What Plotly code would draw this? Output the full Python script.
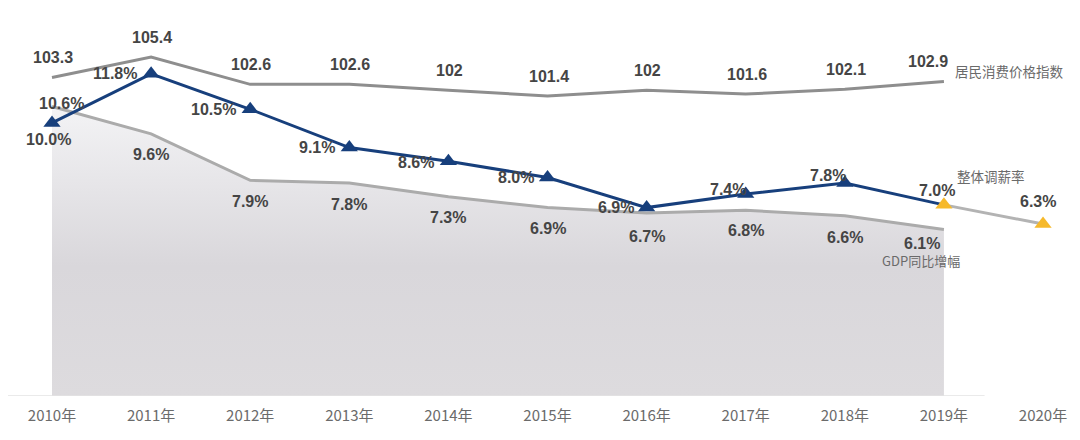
import plotly.graph_objects as go

# ---------------- data ----------------
years = [2010, 2011, 2012, 2013, 2014, 2015, 2016, 2017, 2018, 2019, 2020]
year_labels = ["2010年", "2011年", "2012年", "2013年", "2014年", "2015年",
               "2016年", "2017年", "2018年", "2019年", "2020年"]

cpi_years = years[:10]
cpi = [103.3, 105.4, 102.6, 102.6, 102, 101.4, 102, 101.6, 102.1, 102.9]
cpi_text = ["103.3", "105.4", "102.6", "102.6", "102", "101.4", "102", "101.6", "102.1", "102.9"]

salary = [10.0, 11.8, 10.5, 9.1, 8.6, 8.0, 6.9, 7.4, 7.8, 7.0, 6.3]
salary_text = ["10.0%", "11.8%", "10.5%", "9.1%", "8.6%", "8.0%", "6.9%", "7.4%", "7.8%", "7.0%", "6.3%"]

gdp_years = years[:10]
gdp = [10.6, 9.6, 7.9, 7.8, 7.3, 6.9, 6.7, 6.8, 6.6, 6.1]
gdp_text = ["10.6%", "9.6%", "7.9%", "7.8%", "7.3%", "6.9%", "6.7%", "6.8%", "6.6%", "6.1%"]

series_names = ["居民消费价格指数", "整体调薪率", "GDP同比增幅"]

# ---------------- style ----------------
NAVY = "#173f7c"
YELLOW = "#f6b92b"
CPI_GRAY = "#8e8e8e"
GDP_GRAY = "#ababab"
LABEL = "#454545"
SIDE = "#6a6a6a"
NUM_FONT = "Liberation Sans, Arial, sans-serif"
CJK_FONT = "Noto Sans CJK SC, sans-serif"

# label offsets (pixels): (xanchor, dx, dy)
cpi_off = [("center", 1, 20)] * 9 + [("center", -16, 20)]
salary_off = [("center", -4, -17), ("right", -12, 0), ("right", -12, 0), ("right", -12, 0),
              ("right", -12, -1), ("right", -12, 0), ("right", -11, 0), ("right", 2, 4),
              ("right", 3, 8), ("right", 13, 14), ("center", -5, 22)]
gdp_off = [("center", 9, 3)] + [("center", 0, -21)] * 5 + [("center", 0, -23), ("center", 0, -20),
                                                          ("center", 0, -22), ("center", -22, -14)]

fig = go.Figure()

# GDP with gradient fill
fig.add_trace(go.Scatter(
    x=gdp_years, y=gdp, mode="lines", name=series_names[2],
    line=dict(color=GDP_GRAY, width=3),
    fill="tozeroy",
    fillgradient=dict(type="vertical", start=0, stop=10.6,
                      colorscale=[[0, "#dddbde"], [0.45, "#d9d7db"], [1, "#f3f3f5"]]),
    hoverinfo="skip",
))

# CPI on secondary axis
fig.add_trace(go.Scatter(
    x=cpi_years, y=cpi, mode="lines", name=series_names[0], yaxis="y2",
    line=dict(color=CPI_GRAY, width=3), hoverinfo="skip",
))

# salary: projected segment (2019-2020)
fig.add_trace(go.Scatter(
    x=years[9:], y=salary[9:], mode="lines", line=dict(color="#b3b3b3", width=3),
    hoverinfo="skip", showlegend=False,
))
# salary main line
fig.add_trace(go.Scatter(
    x=years[:10], y=salary[:10], mode="lines", name=series_names[1],
    line=dict(color=NAVY, width=3), hoverinfo="skip",
))
# markers
marker_colors = [NAVY] * 9 + [YELLOW, YELLOW]
fig.add_trace(go.Scatter(
    x=years, y=salary, mode="markers",
    marker=dict(symbol="triangle-up", size=15, color=marker_colors),
    hoverinfo="skip", showlegend=False,
))

ann = []


def add_labels(xs, ys, texts, offs, yref):
    for x, y, t, (xa, dx, dy) in zip(xs, ys, texts, offs):
        ann.append(dict(x=x, y=y, xref="x", yref=yref, text=t, showarrow=False,
                        xanchor=xa, yanchor="middle", xshift=dx, yshift=dy,
                        font=dict(family=NUM_FONT, size=16, color=LABEL, weight="bold")))


add_labels(cpi_years, cpi, cpi_text, cpi_off, "y2")
add_labels(years, salary, salary_text, salary_off, "y")
add_labels(gdp_years, gdp, gdp_text, gdp_off, "y")

# series names
ann.append(dict(x=cpi_years[-1], y=cpi[-1], xref="x", yref="y2", text=series_names[0],
                showarrow=False, xanchor="left", yanchor="middle", xshift=9, yshift=10,
                font=dict(family=CJK_FONT, size=13.5, color=SIDE)))
ann.append(dict(x=years[9], y=salary[9], xref="x", yref="y", text=series_names[1],
                showarrow=False, xanchor="left", yanchor="middle", xshift=11, yshift=29,
                font=dict(family=CJK_FONT, size=13.5, color=SIDE)))
ann.append(dict(x=gdp_years[-1], y=gdp[-1], xref="x", yref="y", text=series_names[2],
                showarrow=False, xanchor="center", yanchor="middle", xshift=-23, yshift=-31,
                font=dict(family=CJK_FONT, size=13, color=SIDE)))

# page body has an 8px margin: figure sized to fit the 1080x440 window
fig.update_layout(
    width=1072, height=432,
    margin=dict(l=0, r=0, t=0, b=44),
    paper_bgcolor="white", plot_bgcolor="white",
    showlegend=False,
    annotations=ann,
    xaxis=dict(range=[2009.556, 2020.373], tickvals=years, ticktext=year_labels,
               showgrid=False, zeroline=False, showline=False, ticks="",
               ticklabelstandoff=9,
               tickfont=dict(family=CJK_FONT, size=15, color="#6b6b6b")),
    yaxis=dict(range=[0, 14.21], visible=False, showgrid=False, zeroline=False),
    yaxis2=dict(range=[70.63, 110.43], overlaying="y", visible=False, showgrid=False,
                zeroline=False),
    shapes=[dict(type="line", xref="paper", yref="y", x0=0, x1=0.911, y0=0, y1=0,
                 line=dict(color="#e3e3e3", width=1.5), layer="above")],
)

fig.write_html("out.html")
